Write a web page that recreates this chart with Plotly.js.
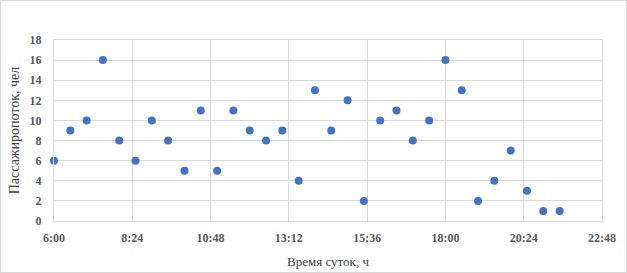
<!DOCTYPE html>
<html><head><meta charset="utf-8">
<script src="https://cdn.plot.ly/plotly-3.0.1.min.js"></script>
<style>
html,body{margin:0;padding:0;background:#fff;}
#wrap{width:627px;height:273px;box-sizing:border-box;border:1px solid #d9d9d9;}
#chart{width:625px;height:271px;}
</style></head>
<body><div id="wrap"><div id="chart"></div></div>
<script>
const times = ['6:00','6:30','7:00','7:30','8:00','8:30','9:00','9:30','10:00','10:30','11:00','11:30',
  '12:00','12:30','13:00','13:30','14:00','14:30','15:00','15:30','16:00','16:30','17:00','17:30',
  '18:00','18:30','19:00','19:30','20:00','20:30','21:00','21:30'];
const passengers = [6,9,10,16,8,6,10,8,5,11,5,11,9,8,9,4,13,9,12,2,10,11,8,10,16,13,2,4,7,3,1,1];
const xTitle = 'Время суток, ч';
const yTitle = 'Пассажиропоток, чел';

function toDate(t){const [h,m]=t.split(':');return '2000-01-01 '+h.padStart(2,'0')+':'+m+':00';}
const xs = times.map(toDate);
const tickFont = {family:'Liberation Serif', size:12, color:'#595959', weight:'bold'};
Plotly.newPlot('chart', [{
  x: xs, y: passengers, type:'scatter', mode:'markers', cliponaxis:false,
  marker:{color:'#4472C4', size:8}, hoverinfo:'none'
}], {
  width:625, height:271,
  margin:{l:53,r:24,t:39,b:51},
  paper_bgcolor:'#fff', plot_bgcolor:'#fff',
  showlegend:false,
  xaxis:{type:'date', range:['2000-01-01 06:00:00','2000-01-01 22:48:00'],
    tick0:'2000-01-01 06:00:00', dtick:8640000, tickformat:'%-H:%M',
    showgrid:true, gridcolor:'#d9d9d9', gridwidth:1, zeroline:false,
    showline:true, linecolor:'#d9d9d9', mirror:true,
    ticks:'', tickfont:tickFont, ticklabelstandoff:6,
    title:{text:xTitle, font:{family:'Liberation Serif', size:13, color:'#404040'}, standoff:12}},
  yaxis:{range:[0,18], dtick:2, showgrid:true, gridcolor:'#d9d9d9', gridwidth:1, zeroline:false,
    showline:true, linecolor:'#d9d9d9', mirror:true,
    ticks:'', tickfont:tickFont, ticklabelstandoff:9,
    title:{text:yTitle, font:{family:'Liberation Serif', size:14, color:'#404040'}, standoff:6}}
}, {staticPlot:true});
</script></body></html>
